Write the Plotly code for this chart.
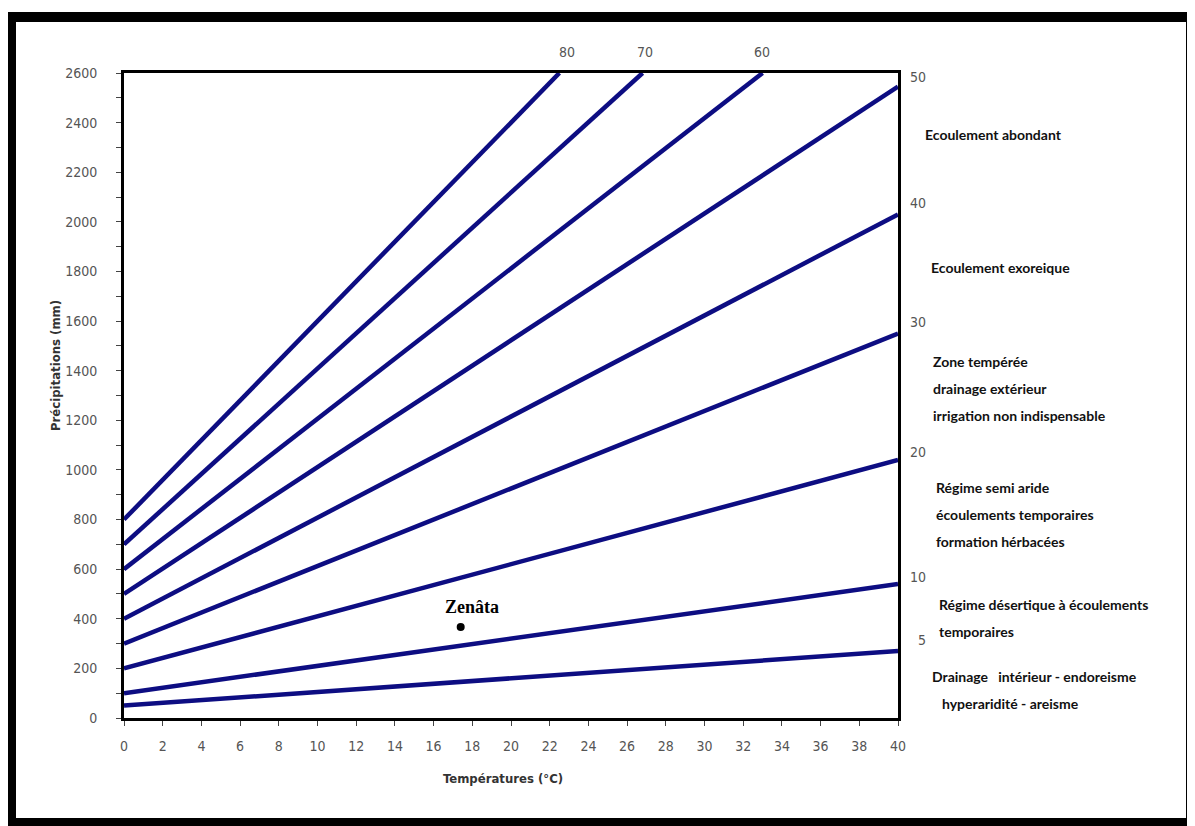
import plotly.graph_objects as go

# ---- data ----
indices = [5, 10, 20, 30, 40, 50, 60, 70, 80]
t_start = [0, 0, 0, 0, 0, 0, 0, 0, 0]
p_start = [50, 100, 200, 300, 400, 500, 600, 700, 800]
t_end = [40, 40, 40, 40, 40, 40, 33.0, 26.8, 22.5]
p_end = [270, 540, 1040, 1550, 2030, 2545, 2600, 2600, 2600]

station_name = ["Zenâta"]
station_t = [17.4]
station_p = [367]

zone_lines = [
    ["Ecoulement abondant"],
    ["Ecoulement exoreique"],
    ["Zone tempérée", "drainage extérieur", "irrigation non indispensable"],
    ["Régime semi aride", "écoulements temporaires", "formation hérbacées"],
    ["Régime désertique à écoulements", "temporaires"],
    ["Drainage   intérieur - endoreisme", "hyperaridité - areisme"],
]
right_index_labels = ["50", "40", "30", "20", "10", "5"]
top_index_labels = ["80", "70", "60"]

# ---- layout geometry (page pixels; the page body adds an 8px offset) ----
OFF = 8
W, H = 1195 - OFF, 826 - OFF
L, R, T, B = 124, 898, 73, 718


def px(x):
    return (x - L) / (R - L)


def py(y):
    return (B - y) / (B - T)


fig = go.Figure()
line_color = "#0d0d82"
for i in range(len(indices)):
    fig.add_trace(go.Scatter(
        x=[t_start[i], t_end[i]], y=[p_start[i], p_end[i]],
        mode="lines", line=dict(color=line_color, width=4.5),
        showlegend=False, hoverinfo="skip", cliponaxis=False))

fig.add_trace(go.Scatter(
    x=station_t, y=station_p, mode="markers",
    marker=dict(color="black", size=8), showlegend=False))

narrow = "DejaVu Sans Condensed, Liberation Sans Narrow, sans-serif"
zone_font = "Lato, DejaVu Sans Condensed, sans-serif"
ann = []


def add_text(x, y, text, font, xanchor="center", angle=0):
    ann.append(dict(x=px(x), y=py(y), xref="paper", yref="paper", text=text,
                    xanchor=xanchor, yanchor="middle", textangle=angle,
                    showarrow=False, font=font))


# station label
add_text(472, 607, "<b>" + station_name[0] + "</b>",
         dict(family="Liberation Serif, Times New Roman, serif", size=18, color="black"))
# right index labels
right_y = [77, 203, 322, 452, 577, 640]
right_x = [918, 918, 918, 918, 918, 922]
for lab, xx, yy in zip(right_index_labels, right_x, right_y):
    add_text(xx, yy, lab, dict(family=narrow, size=14, color="#555555"))
# top index labels
top_x = [567, 645, 762]
for lab, xx in zip(top_index_labels, top_x):
    add_text(xx, 52, lab, dict(family=narrow, size=14, color="#555555"))
# zone texts (one annotation per line)
zone_x = [[923], [929], [931, 931, 931], [934, 934, 934], [937, 937], [930, 940]]
zone_y = [[135], [267], [361, 388, 416], [487, 514, 541], [604, 631], [676, 703]]
for lines, xs, ys in zip(zone_lines, zone_x, zone_y):
    for txt, xx, yy in zip(lines, xs, ys):
        add_text(xx, yy, "<b>" + txt + "</b>",
                 dict(family=zone_font, size=14, color="#111111"), xanchor="left")
# axis titles
add_text(55, 366, "<b>Précipitations (mm)</b>",
         dict(family=narrow, size=13, color="#333333"), angle=-90)
add_text(503, 778, "<b>Températures (°C)</b>",
         dict(family=narrow, size=13, color="#333333"))

shapes = [
    # outer frame
    dict(type="rect", xref="paper", yref="paper", x0=px(12), x1=px(1190), y0=py(16), y1=py(822),
         line=dict(color="black", width=8), layer="above"),
    dict(type="line", xref="paper", yref="paper", x0=px(8), x1=px(1194), y0=py(19), y1=py(19),
         line=dict(color="black", width=6), layer="above"),
]

fig.update_layout(
    width=W, height=H,
    margin=dict(l=L - OFF, r=W - (R - OFF), t=T - OFF, b=H - (B - OFF)),
    paper_bgcolor="white", plot_bgcolor="white",
    annotations=ann, shapes=shapes,
    xaxis=dict(range=[0, 40], dtick=2, tick0=0, showgrid=False, zeroline=False,
               showline=True, mirror=True, linecolor="black", linewidth=3,
               ticks="outside", ticklen=5, tickcolor="#444", tickwidth=1,
               tickfont=dict(family=narrow, size=14, color="#555555"), ticklabelstandoff=8),
    yaxis=dict(range=[0, 2600], dtick=200, tick0=0, showgrid=False, zeroline=False,
               showline=True, mirror=True, linecolor="black", linewidth=3,
               ticks="outside", ticklen=5, tickcolor="#444", tickwidth=1,
               minor=dict(dtick=100, ticks="outside", ticklen=5, tickcolor="#444", showgrid=False),
               tickfont=dict(family=narrow, size=14, color="#555555"), ticklabelstandoff=16),
)

fig.write_html("out.html")
